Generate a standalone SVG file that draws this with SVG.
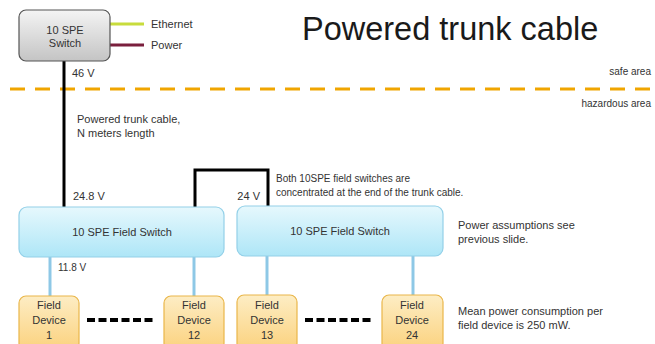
<svg xmlns="http://www.w3.org/2000/svg" width="655" height="344" viewBox="0 0 655 344">
<defs>
<linearGradient id="gGray" x1="0" y1="0" x2="0" y2="1"><stop offset="0" stop-color="#f4f4f4"/><stop offset="1" stop-color="#c4c4c4"/></linearGradient>
<linearGradient id="gBlue" x1="0" y1="0" x2="0" y2="1"><stop offset="0" stop-color="#e6f8fd"/><stop offset="1" stop-color="#aee6f7"/></linearGradient>
<linearGradient id="gOrange" x1="0" y1="0" x2="0" y2="1"><stop offset="0" stop-color="#fdedc4"/><stop offset="1" stop-color="#fbd27e"/></linearGradient>
</defs>
<style>
text{font-family:"Liberation Sans",Arial,sans-serif;fill:#333}
.s{font-size:10px}
.m{font-size:11px}
.c{text-anchor:middle}
.r{text-anchor:end}
.blue{fill:url(#gBlue);stroke:#93d0e8;stroke-width:1.2}
.dev{fill:url(#gOrange);stroke:#e9b64a;stroke-width:1.2}
.trunk{fill:none;stroke:#000;stroke-width:3}
.drop{stroke:#8ec8e6;stroke-width:3}
.dots{stroke:#000;stroke-width:4;stroke-dasharray:8 3.5}
</style>
<rect width="655" height="344" fill="#fff"/>
<text x="302" y="40" style="font-size:32.5px;fill:#1a1a1a">Powered trunk cable</text>
<line x1="10" y1="89" x2="655" y2="89" stroke="#f0a500" stroke-width="3" stroke-dasharray="15 10"/>
<text class="s r" x="651" y="75">safe area</text>
<text class="s r" x="651" y="107">hazardous area</text>
<g id="connectors">
<line class="trunk" x1="64" y1="61" x2="64" y2="207"/>
<polyline class="trunk" points="195,207 195,170 268,170 268,206"/>
<line x1="110" y1="24" x2="144" y2="24" stroke="#c8dc3c" stroke-width="3"/>
<line x1="110" y1="45" x2="144" y2="45" stroke="#7a1f3d" stroke-width="3"/>
<line class="drop" x1="50" y1="257" x2="50" y2="296"/>
<line class="drop" x1="194" y1="257" x2="194" y2="296"/>
<line class="drop" x1="267" y1="256" x2="267" y2="296"/>
<line class="drop" x1="413" y1="256" x2="413" y2="296"/>
<line class="dots" x1="87" y1="320" x2="155" y2="320"/>
<line class="dots" x1="305" y1="320" x2="373" y2="320"/>
</g>
<text class="m" x="151" y="28">Ethernet</text>
<text class="m" x="151" y="49">Power</text>
<text class="m" x="72" y="77">46 V</text>
<text class="m" x="77" y="123">Powered trunk cable,</text>
<text class="m" x="77" y="137">N meters length</text>
<text class="m" x="73" y="200">24.8 V</text>
<text class="m r" x="260" y="200">24 V</text>
<text class="s" x="276" y="182">Both 10SPE field switches are</text>
<text class="s" x="276" y="196">concentrated at the end of the trunk cable.</text>
<text class="m" x="458" y="229">Power assumptions see</text>
<text class="m" x="458" y="243">previous slide.</text>
<text class="s" x="58" y="271">11.8 V</text>
<text class="m" x="458" y="315">Mean power consumption per</text>
<text class="m" x="458" y="329">field device is 250 mW.</text>
<g id="switch">
<rect x="19" y="10" width="91" height="51" rx="7" fill="url(#gGray)" stroke="#555" stroke-width="1.2"/>
<text class="m c" x="65" y="34">10 SPE</text>
<text class="m c" x="65" y="47">Switch</text>
</g>
<g id="fieldswitch1">
<rect class="blue" x="19" y="207" width="205" height="50" rx="8"/>
<text class="m c" x="122" y="236">10 SPE Field Switch</text>
</g>
<g id="fieldswitch2">
<rect class="blue" x="237" y="206" width="206" height="50" rx="8"/>
<text class="m c" x="340" y="235">10 SPE Field Switch</text>
</g>
<g id="device1">
<rect class="dev" x="19" y="296" width="60" height="54" rx="7"/>
<text class="m c" x="49" y="309">Field</text><text class="m c" x="49" y="324">Device</text><text class="m c" x="49" y="339">1</text>
</g>
<g id="device12">
<rect class="dev" x="164" y="296" width="60" height="54" rx="7"/>
<text class="m c" x="194" y="309">Field</text><text class="m c" x="194" y="324">Device</text><text class="m c" x="194" y="339">12</text>
</g>
<g id="device13">
<rect class="dev" x="237" y="295" width="60" height="55" rx="7"/>
<text class="m c" x="267" y="309">Field</text><text class="m c" x="267" y="324">Device</text><text class="m c" x="267" y="339">13</text>
</g>
<g id="device24">
<rect class="dev" x="382" y="295" width="61" height="55" rx="7"/>
<text class="m c" x="412" y="309">Field</text><text class="m c" x="412" y="324">Device</text><text class="m c" x="412" y="339">24</text>
</g>
</svg>
